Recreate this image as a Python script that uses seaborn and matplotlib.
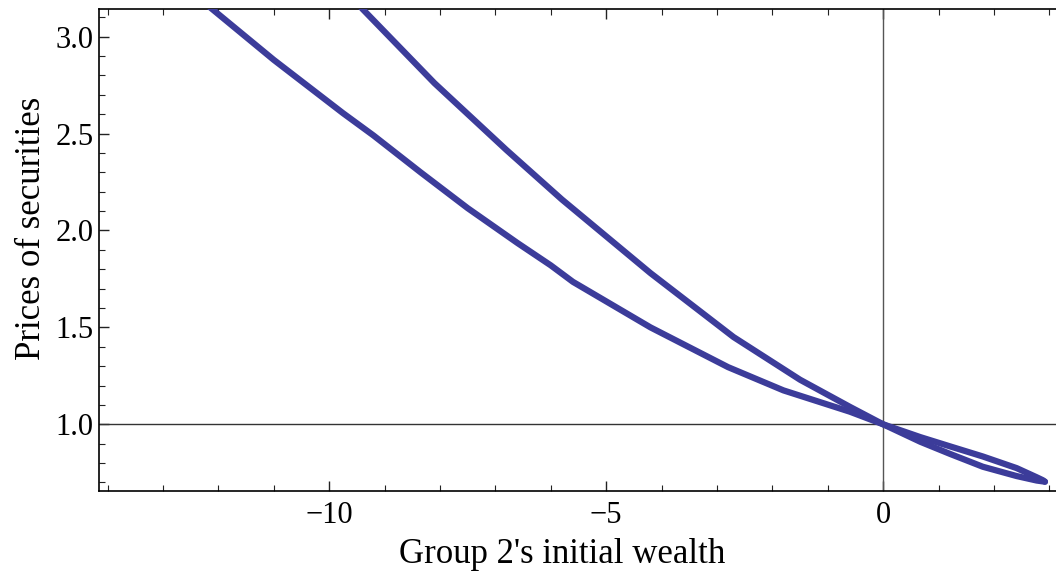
import numpy as np
import pandas as pd
import matplotlib
matplotlib.use("Agg")
import matplotlib.pyplot as plt
import seaborn as sns
from matplotlib.ticker import MultipleLocator

# ========== DATA ==========
# shallow branch: enters top-left, crosses (0, 1), upper arm on the right, ends at tip
shallow_x = [-12.4, -11.0, -9.75, -9.2, -8.35, -7.5, -6.6, -6.0, -5.6, -4.2, -2.8, -1.8, -0.6, 0.0,
             0.67, 1.21, 1.8, 2.41, 2.77, 2.88, 2.92]
shallow_y = [3.21, 2.88, 2.605, 2.49, 2.30, 2.115, 1.935, 1.82, 1.735, 1.50, 1.295, 1.175, 1.065, 1.0,
             0.934, 0.886, 0.834, 0.774, 0.727, 0.712, 0.704]
# steep branch: enters top, crosses (0, 1), lower arm on the right, ends at tip
steep_x = [-9.6, -9.4, -8.1, -6.8, -5.8, -4.2, -2.7, -1.5, -0.6, 0.0,
           0.67, 1.21, 1.8, 2.41, 2.77, 2.92]
steep_y = [3.21, 3.143, 2.76, 2.415, 2.16, 1.78, 1.45, 1.23, 1.09, 1.0,
           0.910, 0.847, 0.781, 0.733, 0.710, 0.704]

x_label = "Group 2's initial wealth"
y_label = "Prices of securities"

df = pd.concat([
    pd.DataFrame({"w": shallow_x, "p": shallow_y, "branch": "shallow"}),
    pd.DataFrame({"w": steep_x, "p": steep_y, "branch": "steep"}),
], ignore_index=True)

# ========== PLOT ==========
sns.set_theme(style="white")
plt.rcParams["font.family"] = ["Liberation Serif", "DejaVu Serif"]

fig = plt.figure(figsize=(10.56, 5.79), dpi=100)
ax = fig.add_axes([0.094, 0.152, 0.906, 0.832])

line_color = "#3c3c9a"
for name, part in df.groupby("branch"):
    sns.lineplot(data=part, x="w", y="p", sort=False, estimator=None,
                 color=line_color, linewidth=4.5, ax=ax, legend=False,
                 solid_capstyle="round", solid_joinstyle="round", zorder=3)

# axes through the origin (0, 1)
ax.axhline(1.0, color="#333333", linewidth=1.0, zorder=2)
ax.axvline(0.0, color="#555555", linewidth=1.0, zorder=2)

ax.set_xlim(-14.15, 3.12)
ax.set_ylim(0.656, 3.141)

ax.xaxis.set_major_locator(MultipleLocator(5))
ax.xaxis.set_minor_locator(MultipleLocator(1))
ax.yaxis.set_major_locator(MultipleLocator(0.5))
ax.yaxis.set_minor_locator(MultipleLocator(0.1))
ax.yaxis.set_major_formatter(matplotlib.ticker.FormatStrFormatter("%.1f"))
ax.xaxis.set_major_formatter(matplotlib.ticker.FuncFormatter(
    lambda v, pos: ("\u2212%d" % abs(v)) if v < 0 else "%d" % v))

ax.tick_params(which="both", direction="in", top=True, right=False,
               bottom=True, left=True, color="#222222", labelsize=22,
               labelcolor="black")
ax.tick_params(which="major", length=7, width=1.0)
ax.tick_params(which="minor", length=4, width=0.8)
ax.tick_params(axis="x", which="major", pad=7)
ax.tick_params(axis="y", which="major", pad=4)

for side in ["left", "bottom", "top"]:
    ax.spines[side].set_color("black")
    ax.spines[side].set_linewidth(1.2)
ax.spines["right"].set_visible(False)

ax.set_xlabel(x_label, fontsize=25, color="black")
ax.set_ylabel(y_label, fontsize=25, color="black")
ax.xaxis.set_label_coords(0.484, -0.098)
ax.yaxis.set_label_coords(-0.054, 0.545)

fig.savefig("out.png", dpi=100)
